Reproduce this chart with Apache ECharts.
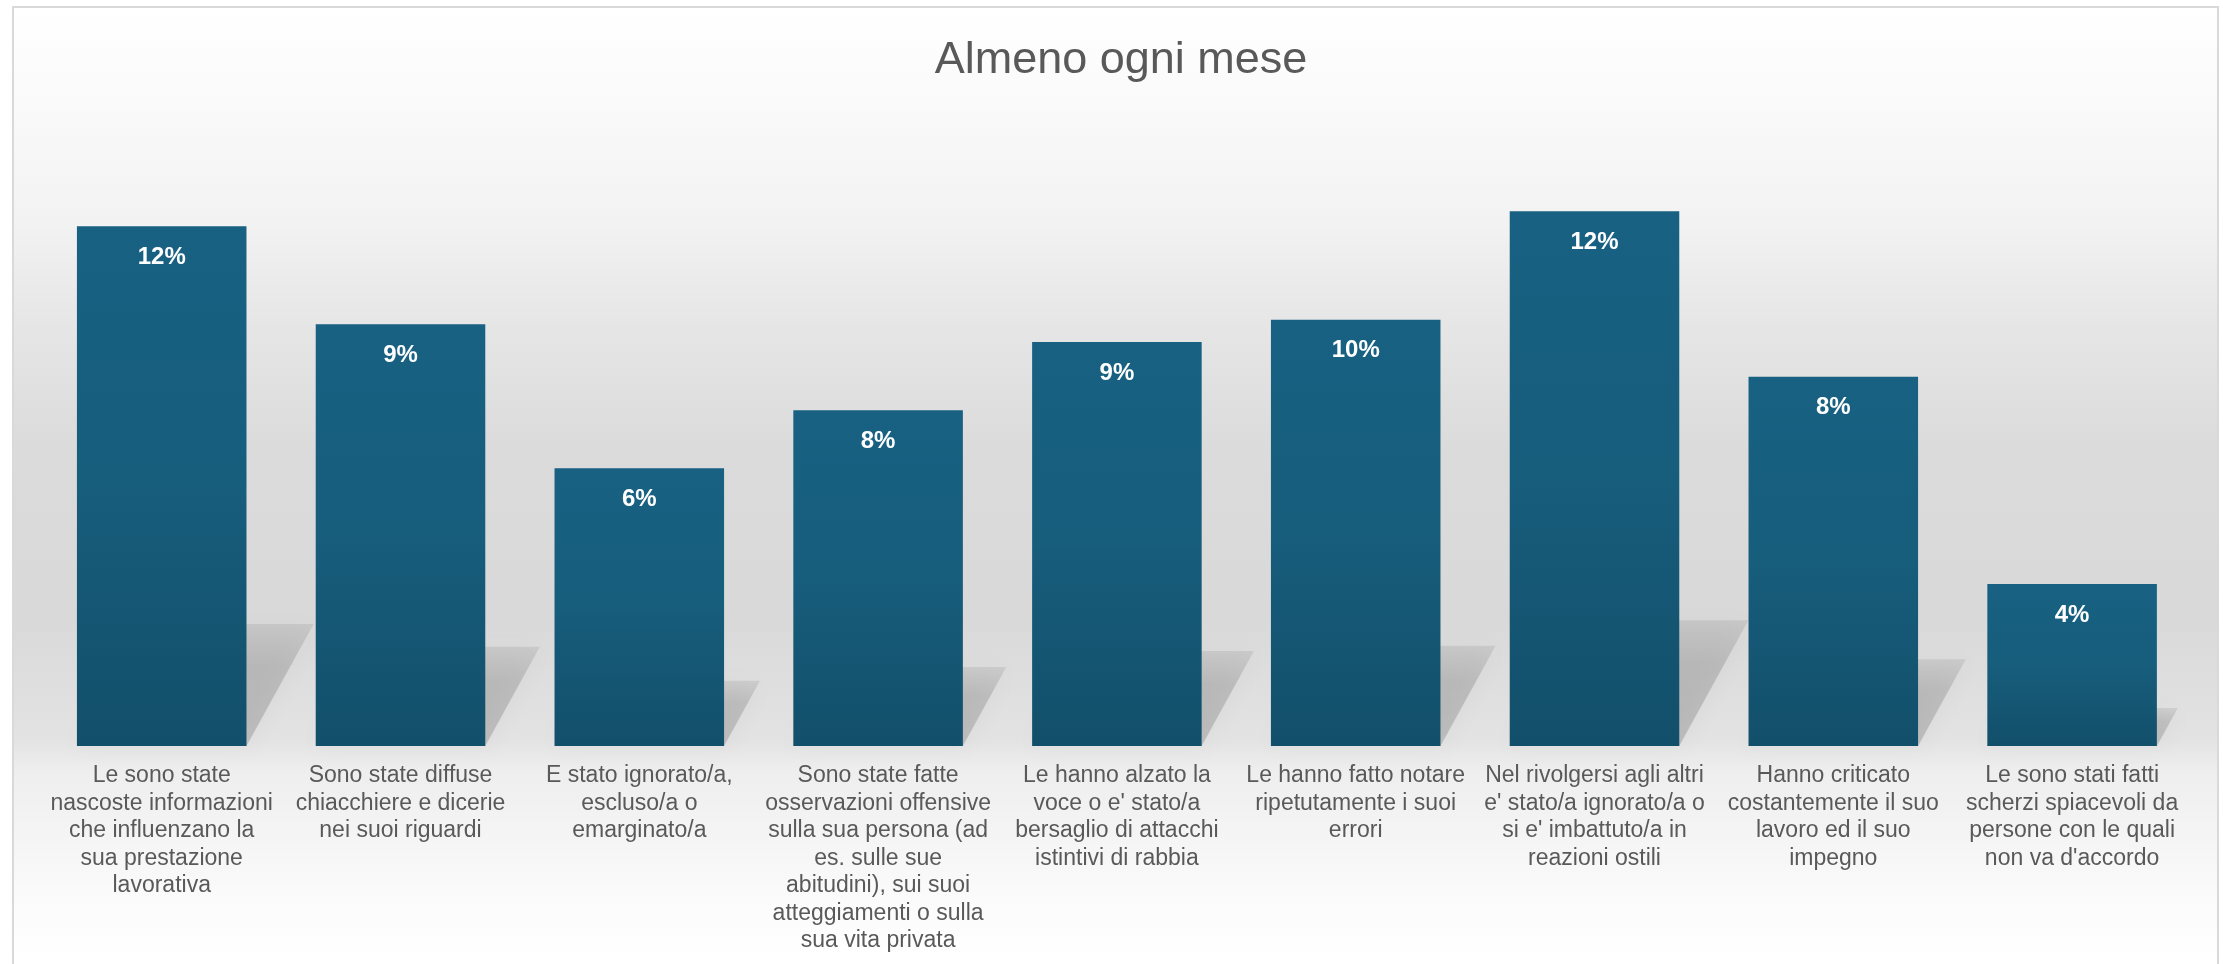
<!DOCTYPE html>
<html>
<head>
<meta charset="utf-8">
<script src="https://cdn.jsdelivr.net/npm/echarts@6/dist/echarts.min.js"></script>
<style>
html,body{margin:0;padding:0;background:#ffffff;}
#chart{width:2223px;height:964px;}
</style>
</head>
<body>
<div id="chart"></div>
<script>
const titleText = 'Almeno ogni mese';
const categories = [
  'Le sono state\nnascoste informazioni\nche influenzano la\nsua prestazione\nlavorativa',
  'Sono state diffuse\nchiacchiere e dicerie\nnei suoi riguardi',
  'E stato ignorato/a,\nescluso/a o\nemarginato/a',
  'Sono state fatte\nosservazioni offensive\nsulla sua persona (ad\nes. sulle sue\nabitudini), sui suoi\natteggiamenti o sulla\nsua vita privata',
  "Le hanno alzato la\nvoce o e' stato/a\nbersaglio di attacchi\nistintivi di rabbia",
  'Le hanno fatto notare\nripetutamente i suoi\nerrori',
  "Nel rivolgersi agli altri\ne' stato/a ignorato/a o\nsi e' imbattuto/a in\nreazioni ostili",
  'Hanno criticato\ncostantemente il suo\nlavoro ed il suo\nimpegno',
  "Le sono stati fatti\nscherzi spiacevoli da\npersone con le quali\nnon va d'accordo"
];
const values = [11.64, 9.45, 6.22, 7.52, 9.05, 9.55, 11.98, 8.27, 3.63];

const chart = echarts.init(document.getElementById('chart'), null, {renderer: 'canvas'});

const barGap = 0.29;

const option = {
  animation: false,
  backgroundColor: '#ffffff',
  title: {
    text: titleText,
    left: 1116,
    top: 33,
    textAlign: 'center',
    textStyle: {
      fontFamily: 'Liberation Sans, Arial, sans-serif',
      fontSize: 45,
      fontWeight: 'normal',
      color: '#595959'
    }
  },
  graphic: [{
    type: 'rect',
    silent: true,
    z: -10,
    shape: {x: 13, y: 7, width: 2205, height: 1000},
    style: {
      fill: {
        type: 'linear', x: 0, y: 0, x2: 0, y2: 1,
        colorStops: [
          {offset: 0, color: '#ffffff'},
          {offset: 0.113, color: '#f9f9f9'},
          {offset: 0.219, color: '#f2f2f2'},
          {offset: 0.317, color: '#e6e6e6'},
          {offset: 0.443, color: '#dbdbdb'},
          {offset: 0.613, color: '#d9d9d9'},
          {offset: 0.733, color: '#e3e3e3'},
          {offset: 0.763, color: '#eeeeee'},
          {offset: 0.893, color: '#fbfbfb'},
          {offset: 0.95, color: '#ffffff'},
          {offset: 1, color: '#ffffff'}
        ]
      },
      stroke: '#d9d9d9',
      lineWidth: 2
    }
  }],
  grid: {left: 42.3, right: 31.5, top: 121, bottom: 218, containLabel: false},
  xAxis: {
    type: 'category',
    data: categories,
    axisLine: {show: false},
    axisTick: {show: false},
    axisLabel: {
      interval: 0,
      margin: 16,
      color: '#595959',
      fontFamily: 'Liberation Sans, Arial, sans-serif',
      fontSize: 23,
      lineHeight: 27.5,
      align: 'center',
      verticalAlign: 'top'
    },
    splitLine: {show: false}
  },
  yAxis: {
    type: 'value',
    min: 0,
    max: 14,
    show: false,
    splitLine: {show: false}
  },
  series: [
    {
      type: 'custom',
      z: 1,
      silent: true,
      data: values.map((v, i) => [i, v]),
      renderItem: function (params, api) {
        const i = api.value(0);
        const v = api.value(1);
        const base = api.coord([i, 0]);
        const top = api.coord([i, v]);
        const band = api.size([1, 0])[0];
        const w = band * (1 - barGap);
        const h = (base[1] - top[1]) * 0.235;
        const dx = h * 0.55;
        const xl = base[0] - w / 2;
        const xr = base[0] + w / 2;
        const y0 = base[1];
        return {
          type: 'polygon',
          shape: {points: [[xl, y0], [xr, y0], [xr + dx, y0 - h], [xl + dx, y0 - h]]},
          style: {
            fill: {
              type: 'linear', x: 0, y: 0, x2: 0, y2: 1,
              colorStops: [
                {offset: 0, color: 'rgba(0,0,0,0.08)'},
                {offset: 0.35, color: 'rgba(0,0,0,0.14)'},
                {offset: 1, color: 'rgba(0,0,0,0.16)'}
              ]
            },
            shadowBlur: 22,
            shadowColor: 'rgba(0,0,0,0.25)'
          }
        };
      }
    },
    {
      type: 'bar',
      z: 3,
      data: values,
      barCategoryGap: '29%',
      itemStyle: {
        color: {
          type: 'linear', x: 0, y: 0, x2: 0, y2: 1,
          colorStops: [
            {offset: 0, color: '#186182'},
            {offset: 0.5, color: '#175d7c'},
            {offset: 1, color: '#124f6a'}
          ]
        }
      },
      label: {
        show: true,
        position: 'insideTop',
        distance: 19,
        color: '#ffffff',
        fontFamily: 'Liberation Sans, Arial, sans-serif',
        fontSize: 24,
        fontWeight: 'bold',
        formatter: function (p) { return Math.round(p.value) + '%'; }
      }
    }
  ]
};

chart.setOption(option);
</script>
</body>
</html>
